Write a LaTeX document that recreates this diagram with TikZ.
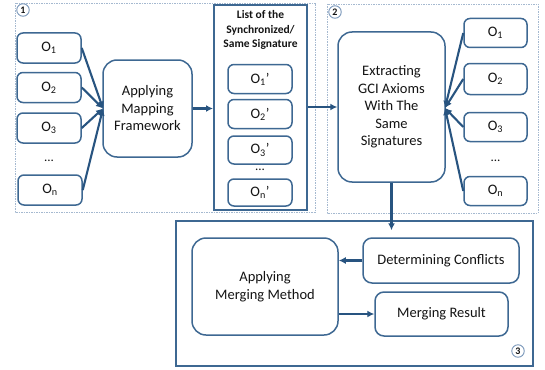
\documentclass[tikz,border=0pt]{standalone}
\usepackage{fontspec}
\setmainfont{Carlito}
\usetikzlibrary{arrows.meta}
\definecolor{boxc}{RGB}{62,104,146}
\definecolor{arrc}{RGB}{40,84,128}
\definecolor{panelc}{RGB}{165,185,208}
\definecolor{numc}{RGB}{120,150,185}
\definecolor{txt}{RGB}{20,20,20}
\tikzset{
  ob/.style={draw=boxc, line width=1.5pt, rounded corners=6pt, fill=white, text=txt, minimum width=64pt, minimum height=30pt, inner sep=0pt, font=\fontsize{14.5}{17}\selectfont},
  big/.style={draw=boxc, line width=1.5pt, rounded corners=14pt, fill=white, text=txt, inner sep=0pt, align=center, font=\fontsize{14.5}{17.5}\selectfont},
  mid/.style={draw=boxc, line width=1.5pt, rounded corners=9pt, fill=white, text=txt, inner sep=0pt, align=center, font=\fontsize{14.5}{17.5}\selectfont},
  panel/.style={draw=panelc, line width=0.6pt, dash pattern=on 1.5pt off 1pt},
  arr/.style={draw=arrc, line width=2.1pt, -{Latex[length=7pt,width=7pt]}},
  num/.style={circle, draw=numc, line width=0.9pt, fill=white, text=txt, inner sep=0pt, minimum size=12.5pt, font=\fontsize{10}{10}\bfseries\selectfont},
  dots/.style={inner sep=0pt, text=txt, font=\fontsize{13}{13}\selectfont}
}
\begin{document}
\begin{tikzpicture}[x=1pt,y=-1pt]
\useasboundingbox (0,0) rectangle (545,369);
% panels
\draw[panel] (15,3) rectangle (315,212);
\draw[panel] (327,4) rectangle (538,213);
\node[num] (n1) at (23,10) {1};
\node[num] (n2) at (335,12) {2};
% panel 1 left column
\node[ob] (a1) at (49,48) {O\textsubscript{1}};
\node[ob] (a2) at (49,87.5) {O\textsubscript{2}};
\node[ob] (a3) at (49,128) {O\textsubscript{3}};
\node[dots] (ad) at (49,161) {...};
\node[ob] (an) at (50,190) {O\textsubscript{n}};
\node[big, minimum width=89pt, minimum height=97pt] (map) at (147.5,108.5) {Applying\\Mapping\\Framework};
\coordinate (mapin) at (103,108.5);
\foreach \s in {a1,a2,a3,an} \draw[arr] (\s.east) -- (mapin);
% list box
\node[draw=boxc, line width=2pt, fill=white, minimum width=93pt, minimum height=205pt, inner sep=0pt] (list) at (260.5,107.5) {};
\node[inner sep=0pt, align=center, text=txt, font=\fontsize{11.5}{14.5}\bfseries\selectfont] (lt) at (260.5,30) {List of the\\Synchronized/\\Same Signature};
\node[ob, minimum height=29pt] (b1) at (260,79) {O\textsubscript{1}’};
\node[ob, minimum height=29pt] (b2) at (260,114) {O\textsubscript{2}’};
\node[ob, minimum height=28pt] (b3) at (260,150) {O\textsubscript{3}’};
\node[dots] (bd) at (260,170) {...};
\node[ob, minimum height=27pt] (bn) at (260,192.5) {O\textsubscript{n}’};
\draw[arr] (map.east) -- (list.west |- map.east);
% panel 2
\node[big, minimum width=107pt, minimum height=150pt] (ext) at (391.5,107) {Extracting\\GCI Axioms\\With The\\Same\\Signatures};
\draw[arr] (list.east |- ext.west) -- (ext.west);
\node[ob, minimum width=63pt, minimum height=29pt] (c1) at (495.5,33) {O\textsubscript{1}};
\node[ob, minimum width=63pt, minimum height=31pt] (c2) at (495.5,79) {O\textsubscript{2}};
\node[ob, minimum width=63pt, minimum height=29pt] (c3) at (495.5,127) {O\textsubscript{3}};
\node[dots] (cd) at (495.5,161) {...};
\node[ob, minimum width=63pt, minimum height=29pt] (cn) at (495.5,191) {O\textsubscript{n}};
\coordinate (extin) at (445,108);
\foreach \s in {c1,c2,c3,cn} \draw[arr] (\s.west) -- (extin);
% panel 3
\node[draw=boxc, line width=1.7pt, fill=white, minimum width=357pt, minimum height=145pt, inner sep=0pt] (p3) at (354.5,293.5) {};
\node[num] (n3) at (518,351) {3};
\node[big, minimum width=146pt, minimum height=97pt] (mm) at (265,286.5) {Applying\\Merging Method};
\node[mid, minimum width=156pt, minimum height=45pt] (det) at (441,260.5) {Determining Conflicts};
\node[mid, minimum width=133pt, minimum height=44pt] (res) at (441.5,314) {Merging Result};
\draw[arr] (ext.south) -- ([yshift=7pt]det.north -| ext.south);
\draw[arr] (det.west) -- (mm.east |- det.west);
\draw[arr] (mm.east |- res.west) -- (res.west);
\end{tikzpicture}
\end{document}
